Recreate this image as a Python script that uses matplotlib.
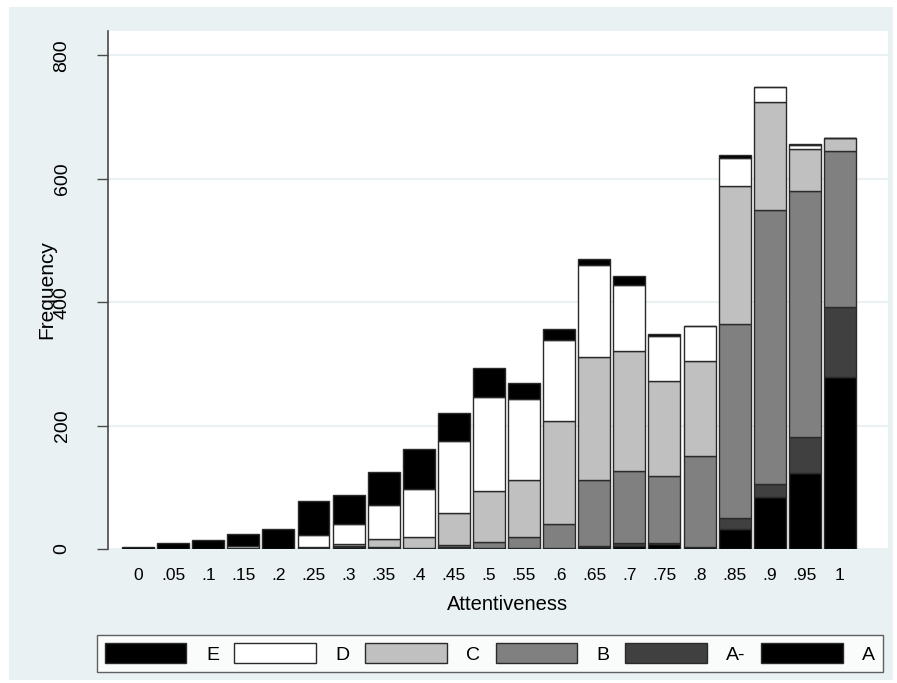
import matplotlib
matplotlib.use("Agg")
import matplotlib.pyplot as plt
from matplotlib.patches import Rectangle, Patch
import numpy as np

plt.rcParams['font.family'] = ['Liberation Sans', 'DejaVu Sans']

categories = ["0", ".05", ".1", ".15", ".2", ".25", ".3", ".35", ".4", ".45",
              ".5", ".55", ".6", ".65", ".7", ".75", ".8", ".85", ".9", ".95", "1"]

grade_A  = [0, 0, 0, 1, 0, 1, 3, 2, 1, 2, 2, 2, 1, 4, 5, 8, 3, 32, 85, 123, 278]
grade_Am = [0, 0, 0, 0, 0, 0, 0, 0, 0, 1, 0, 0, 0, 1, 4, 1, 1, 18, 20, 58, 115]
grade_B  = [0, 0, 0, 0, 0, 1, 2, 2, 1, 4, 10, 18, 39, 107, 118, 110, 147, 314, 444, 399, 252]
grade_C  = [0, 0, 0, 0, 0, 1, 3, 13, 17, 52, 82, 92, 168, 199, 194, 154, 153, 225, 176, 69, 21]
grade_D  = [0, 0, 0, 4, 0, 20, 33, 55, 78, 116, 153, 131, 130, 149, 107, 72, 57, 45, 23, 5, 0]
grade_E  = [3, 10, 15, 20, 32, 55, 47, 52, 65, 45, 46, 26, 19, 10, 15, 4, 1, 4, 0, 2, 0]

# stacking order from bottom to top
series = [("A", grade_A, "#000000"),
          ("A-", grade_Am, "#404040"),
          ("B", grade_B, "#808080"),
          ("C", grade_C, "#c0c0c0"),
          ("D", grade_D, "#ffffff"),
          ("E", grade_E, "#000000")]

W, H = 897, 683
fig = plt.figure(figsize=(W / 100, H / 100), dpi=100, facecolor="white")

bg = "#eaf1f3"
fig.patches.append(Rectangle((9 / W, 3 / H), 884 / W, 673 / H, transform=fig.transFigure,
                             facecolor=bg, edgecolor="none", zorder=-10))

ax = fig.add_axes([108 / W, (H - 549) / H, 780 / W, 518 / H])
ax.set_facecolor("white")

x = np.arange(len(categories))
bottom = np.zeros(len(categories))
for name, vals, color in series:
    vals = np.array(vals, dtype=float)
    ax.bar(x, vals, bottom=bottom, width=0.91, color=color,
           edgecolor="#2a2a2a", linewidth=1.0, zorder=3)
    bottom += vals

ax.set_xlim(-0.855, len(categories) - 1 + 1.37)
ax.set_ylim(0, 839.5)

ax.set_yticks([0, 200, 400, 600, 800])
ax.set_yticklabels(["0", "200", "400", "600", "800"], rotation=90, va="center",
                   fontsize=14)
ax.tick_params(axis="y", direction="out", length=8, width=1, color="#4a4a4a", pad=19)
ax.yaxis.grid(True, color=bg, linewidth=1.5, zorder=0)
ax.set_axisbelow(True)

ax.set_xticks(x)
ax.set_xticklabels(categories, fontsize=12.5)
ax.tick_params(axis="x", length=0, pad=14)

for side in ["top", "right", "bottom"]:
    ax.spines[side].set_visible(False)
ax.spines["left"].set_color("#4a4a4a")
ax.spines["left"].set_linewidth(1.2)

fig.text(47 / W, 1 - 290 / H, "Frequency", rotation=90, ha="center", va="center",
         fontsize=15)
fig.text(508 / W, 1 - 605 / H, "Attentiveness", ha="center", va="center", fontsize=14.5)

# legend in reading order E .. A
handles = [Patch(facecolor=c, edgecolor="#2a2a2a", linewidth=1.0, label=n)
           for n, _, c in reversed(series)]
leg = fig.legend(handles=handles, ncol=6, loc="center",
                 bbox_to_anchor=(97 / W, 1 - 675 / H, 786 / W, 43 / H),
                 mode="expand", fontsize=14, handlelength=4.2, handleheight=1.2,
                 handletextpad=1.0, columnspacing=1.5, borderaxespad=0,
                 frameon=True, fancybox=False)
leg.get_frame().set_edgecolor("#3a3a3a")
leg.get_frame().set_linewidth(1.0)
leg.get_frame().set_facecolor("white")

fig.savefig("out.png", dpi=100, facecolor=fig.get_facecolor())
